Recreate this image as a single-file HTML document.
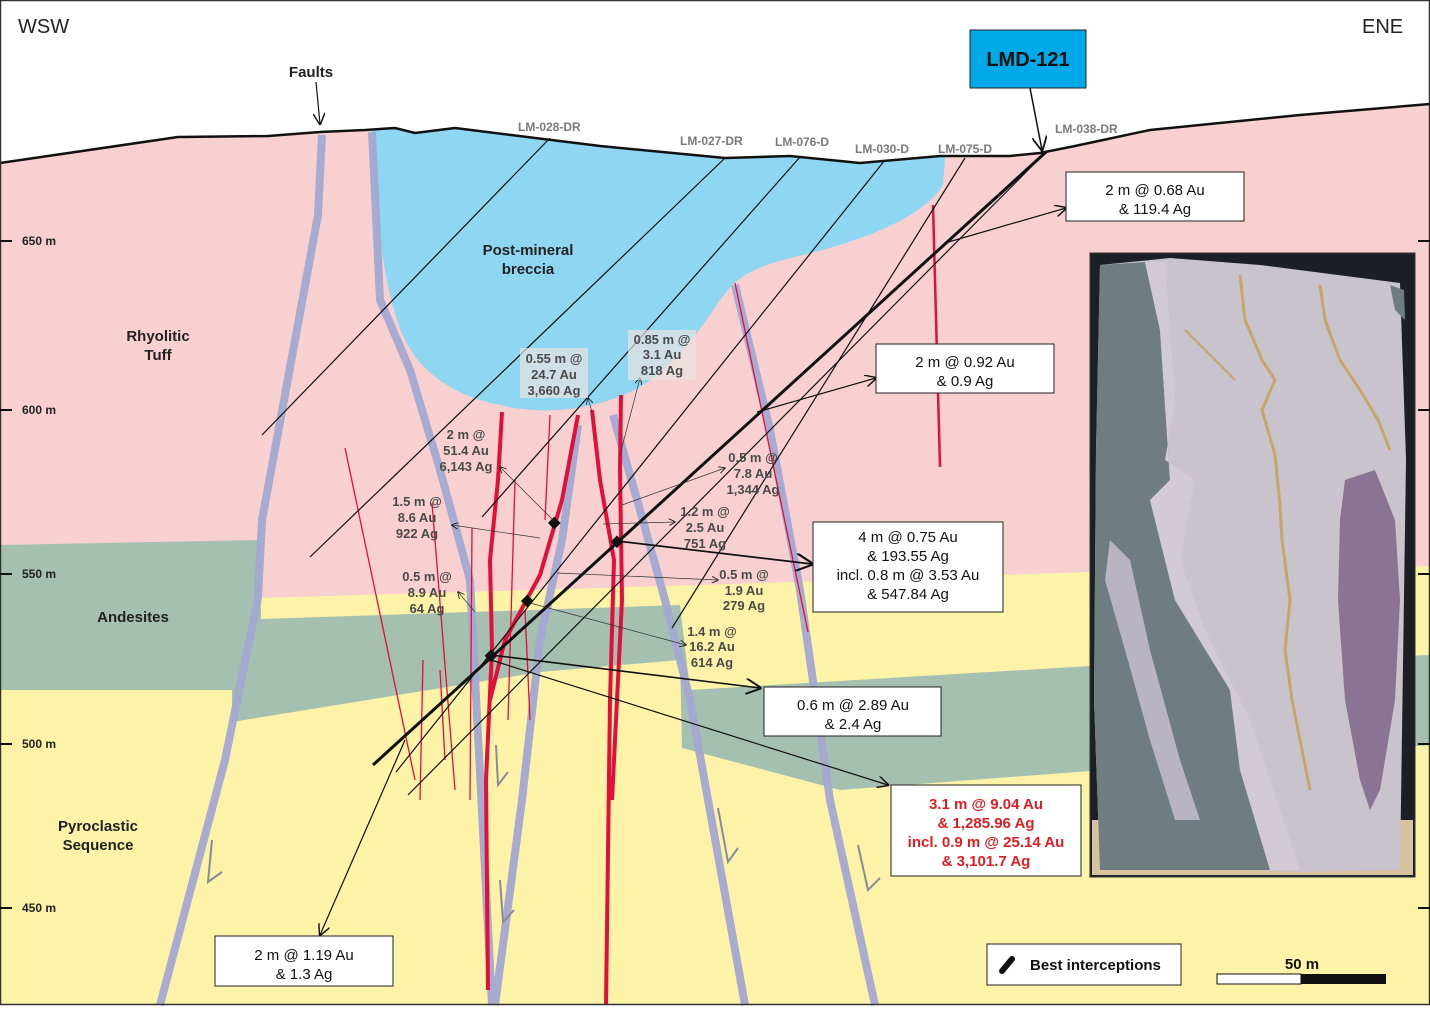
<!DOCTYPE html>
<html><head><meta charset="utf-8"><style>
html,body{margin:0;padding:0;background:#fff}
svg{display:block;font-family:"Liberation Sans",Arial,sans-serif}
.lab{font-size:13px;font-weight:bold;fill:#4a4a4a;text-anchor:middle}
.box{fill:#fff;stroke:#222;stroke-width:1}
.bt{font-size:15px;fill:#111;text-anchor:middle}
.rt{font-size:15px;fill:#e01c24;text-anchor:middle;font-weight:bold}
.geo{font-size:15px;font-weight:bold;fill:#222;text-anchor:middle}
.hole{font-size:12px;font-weight:bold;fill:#7a7a7a}
.dep{font-size:12px;font-weight:bold;fill:#222}
</style></head><body>
<svg width="1430" height="1010" viewBox="0 0 1430 1010" xmlns="http://www.w3.org/2000/svg">
<rect x="0" y="0" width="1430" height="1010" fill="#fff"/>
<!-- pink base -->
<polygon fill="#f9d0d0" points="0,163 178,137 268,136 320,132 365,130 395,128 415,133 455,128 600,146 725,158 790,156 860,163 940,156 1010,156 1040,153 1075,146 1150,130 1300,115 1430,104 1430,1005 0,1005"/>
<!-- yellow -->
<polygon fill="#fdf3a8" points="260,598 700,585 1090,572 1430,566 1430,1005 0,1005 0,688 260,688"/>
<!-- green left block -->
<polygon fill="#a5bfb0" points="0,545 260,540 262,690 0,690"/>
<!-- green middle/right -->
<polygon fill="#a5bfb0" points="232,620 470,612 680,605 690,690 1090,666 1430,655 1430,745 840,790 682,748 680,660 540,672 232,722"/>
<!-- breccia -->
<path fill="#8fd6f3" d="M372,130 L395,128 L415,133 L455,128 L600,146 L725,158 L790,156 L860,163 L940,156 L945,156 L943,185 C925,215 870,240 790,258 C745,270 735,280 720,300 C690,345 660,385 610,400 C580,410 540,415 500,405 C450,395 420,370 405,340 C390,310 380,250 376,200 Z"/>
<!-- faults -->
<g fill="none" stroke="#a3a8d2" stroke-width="8" stroke-linejoin="round" opacity="0.95">
<polyline points="322,135 318,215 262,520 258,598 225,760 160,1005"/>
<polyline points="372,132 380,300 410,370 440,470 470,580 492,1005"/>
<polyline points="578,425 562,540 540,640 522,800 495,1005"/>
<polyline points="613,415 640,510 665,600 690,700 745,1005"/>
<polyline points="735,285 770,430 800,590 830,800 875,1005"/>
</g>
<!-- fault ticks -->
<g fill="none" stroke="#8a8a9a" stroke-width="2">
<polyline points="212,840 208,882 222,872"/><polyline points="496,745 498,785 508,772"/>
<polyline points="718,808 728,862 738,848"/><polyline points="858,845 868,890 880,878"/>
<polyline points="500,880 503,922 514,910"/>
</g>
<!-- thin red veins -->
<g stroke="#e0103a" stroke-width="1.3" fill="none">
<line x1="345" y1="448" x2="415" y2="780"/><line x1="432" y1="503" x2="455" y2="790"/>
<line x1="472" y1="528" x2="470" y2="800"/><line x1="515" y1="480" x2="508" y2="720"/>
<line x1="550" y1="415" x2="545" y2="520"/><line x1="525" y1="610" x2="530" y2="720"/>
<line x1="423" y1="660" x2="420" y2="800"/><line x1="440" y1="670" x2="445" y2="760"/>
<line x1="735" y1="283" x2="808" y2="632"/>
</g>
<!-- thick red veins -->
<g stroke="#e0103a" stroke-width="4" fill="none" stroke-linejoin="round">
<polyline points="502,412 498,480 490,560 492,650 486,780 488,990"/>
<polyline points="578,415 562,500 540,575 505,640 490,700"/>
<polyline points="592,410 600,480 614,560 610,700 606,1005"/>
<polyline points="621,395 620,470 622,600 612,800"/>
<polyline points="933,205 940,467" stroke-width="2.5"/>
</g>
<!-- drill holes -->
<g stroke="#111" stroke-width="1.2" fill="none">
<line x1="550" y1="138" x2="262" y2="435"/>
<line x1="725" y1="158" x2="310" y2="557"/>
<line x1="800" y1="157" x2="482" y2="517"/>
<line x1="885" y1="160" x2="396" y2="772"/>
<line x1="965" y1="158" x2="672" y2="628"/>
<line x1="1040" y1="158" x2="408" y2="795"/>
</g>
<line x1="1046" y1="152" x2="373" y2="765" stroke="#111" stroke-width="3"/>
<!-- intercept markers -->
<g fill="#111">
<rect x="550" y="519" width="9" height="9" transform="rotate(45 555 523)"/>
<rect x="613" y="537" width="9" height="9" transform="rotate(45 617 541)"/>
<rect x="523" y="597" width="9" height="9" transform="rotate(45 528 601)"/>
<rect x="487" y="651" width="9" height="9" transform="rotate(45 491 655)"/>
</g>
<!-- arrows / leaders -->
<defs><marker id="ah" markerWidth="10" markerHeight="10" refX="9" refY="5" orient="auto"><path d="M0,0 L10,5 L0,10" fill="none" stroke="#111" stroke-width="1.2"/></marker></defs>
<g stroke="#111" fill="none" marker-end="url(#ah)">
<line x1="945" y1="243" x2="1066" y2="208" stroke-width="1.2"/>
<line x1="757" y1="412" x2="876" y2="378" stroke-width="1.2"/>
<line x1="617" y1="541" x2="812" y2="564" stroke-width="1.8"/>
<line x1="491" y1="655" x2="760" y2="688" stroke-width="1.6"/>
<line x1="491" y1="660" x2="888" y2="785" stroke-width="1.2"/>
<line x1="405" y1="740" x2="320" y2="935" stroke-width="1.2"/>
<line x1="1030" y1="88" x2="1042" y2="150" stroke-width="1.5"/>
<line x1="316" y1="82" x2="320" y2="124" stroke-width="1.2"/>
</g>
<g stroke="#333" fill="none" stroke-width="0.7" marker-end="url(#ah)">
<line x1="555" y1="522" x2="500" y2="467"/>
<line x1="540" y1="538" x2="452" y2="525"/>
<line x1="475" y1="612" x2="458" y2="592"/>
<line x1="592" y1="412" x2="588" y2="398"/>
<line x1="620" y1="455" x2="640" y2="378"/>
<line x1="622" y1="505" x2="725" y2="468"/>
<line x1="603" y1="524" x2="675" y2="522"/>
<line x1="557" y1="573" x2="718" y2="580"/>
<line x1="530" y1="603" x2="686" y2="645"/>
</g>
<!-- surface -->
<polyline fill="none" stroke="#111" stroke-width="2.5" points="0,163 178,137 268,136 320,132 365,130 395,128 415,133 455,128 600,146 725,158 790,156 860,163 940,156 1010,156 1040,153 1075,146 1150,130 1300,115 1430,104"/>
<!-- frame -->
<rect x="0.5" y="0.5" width="1429" height="1004" fill="none" stroke="#333" stroke-width="1.5"/>
<!-- depth ticks -->
<g stroke="#111" stroke-width="2">
<line x1="0" y1="241" x2="12" y2="241"/><line x1="0" y1="410" x2="12" y2="410"/><line x1="0" y1="574" x2="12" y2="574"/><line x1="0" y1="744" x2="12" y2="744"/><line x1="0" y1="908" x2="12" y2="908"/>
<line x1="1418" y1="241" x2="1430" y2="241"/><line x1="1418" y1="410" x2="1430" y2="410"/><line x1="1418" y1="574" x2="1430" y2="574"/><line x1="1418" y1="744" x2="1430" y2="744"/><line x1="1418" y1="908" x2="1430" y2="908"/>
</g>
<text class="dep" x="22" y="245">650 m</text><text class="dep" x="22" y="414">600 m</text><text class="dep" x="22" y="578">550 m</text><text class="dep" x="22" y="748">500 m</text><text class="dep" x="22" y="912">450 m</text>
<text x="18" y="33" font-size="20" fill="#222">WSW</text>
<text x="1362" y="33" font-size="20" fill="#222">ENE</text>
<text x="311" y="77" class="geo">Faults</text>
<rect x="970" y="30" width="116" height="58" fill="#00a9e8" stroke="#222" stroke-width="1"/>
<text x="1028" y="66" font-size="20" font-weight="bold" fill="#111" text-anchor="middle">LMD-121</text>
<!-- hole labels -->
<text class="hole" x="518" y="131">LM-028-DR</text><text class="hole" x="680" y="145">LM-027-DR</text>
<text class="hole" x="775" y="146">LM-076-D</text><text class="hole" x="855" y="153">LM-030-D</text>
<text class="hole" x="938" y="153">LM-075-D</text><text class="hole" x="1055" y="133">LM-038-DR</text>
<!-- geology -->
<text class="geo" x="528" y="255">Post-mineral</text><text class="geo" x="528" y="274">breccia</text>
<text class="geo" x="158" y="341">Rhyolitic</text><text class="geo" x="158" y="360">Tuff</text>
<text class="geo" x="133" y="622">Andesites</text>
<text class="geo" x="98" y="831">Pyroclastic</text><text class="geo" x="98" y="850">Sequence</text>
<!-- small labels -->
<g class="lab">
<rect x="520" y="348" width="68" height="50" fill="#e8e2e0" opacity="0.7" stroke="none"/>
<text x="554" y="363">0.55 m @</text><text x="554" y="379">24.7 Au</text><text x="554" y="395">3,660 Ag</text>
<rect x="628" y="330" width="68" height="50" fill="#e8e2e0" opacity="0.7" stroke="none"/>
<text x="662" y="344">0.85 m @</text><text x="662" y="359">3.1 Au</text><text x="662" y="375">818 Ag</text>
<text x="466" y="439">2 m @</text><text x="466" y="455">51.4 Au</text><text x="466" y="471">6,143 Ag</text>
<text x="417" y="506">1.5 m @</text><text x="417" y="522">8.6 Au</text><text x="417" y="538">922 Ag</text>
<text x="427" y="581">0.5 m @</text><text x="427" y="597">8.9 Au</text><text x="427" y="613">64 Ag</text>
<text x="753" y="462">0.5 m @</text><text x="753" y="478">7.8 Au</text><text x="753" y="494">1,344 Ag</text>
<text x="705" y="516">1.2 m @</text><text x="705" y="532">2.5 Au</text><text x="705" y="548">751 Ag</text>
<text x="744" y="579">0.5 m @</text><text x="744" y="595">1.9 Au</text><text x="744" y="610">279 Ag</text>
<text x="712" y="636">1.4 m @</text><text x="712" y="651">16.2 Au</text><text x="712" y="667">614 Ag</text>
</g>
<!-- boxes -->
<rect class="box" x="1066" y="172" width="178" height="49"/><text class="bt" x="1155" y="195">2 m @ 0.68 Au</text><text class="bt" x="1155" y="214">&amp; 119.4 Ag</text>
<rect class="box" x="876" y="344" width="178" height="49"/><text class="bt" x="965" y="367">2 m @ 0.92 Au</text><text class="bt" x="965" y="386">&amp; 0.9 Ag</text>
<rect class="box" x="813" y="522" width="190" height="90"/><text class="bt" x="908" y="542">4 m @ 0.75 Au</text><text class="bt" x="908" y="561">&amp; 193.55 Ag</text><text class="bt" x="908" y="580">incl. 0.8 m @ 3.53 Au</text><text class="bt" x="908" y="599">&amp; 547.84 Ag</text>
<rect class="box" x="764" y="687" width="177" height="49"/><text class="bt" x="853" y="710">0.6 m @ 2.89 Au</text><text class="bt" x="853" y="729">&amp; 2.4 Ag</text>
<rect class="box" x="891" y="785" width="190" height="91"/><text class="rt" x="986" y="809">3.1 m @ 9.04 Au</text><text class="rt" x="986" y="828">&amp; 1,285.96 Ag</text><text class="rt" x="986" y="847">incl. 0.9 m @ 25.14 Au</text><text class="rt" x="986" y="866">&amp; 3,101.7 Ag</text>
<rect class="box" x="215" y="936" width="178" height="50"/><text class="bt" x="304" y="960">2 m @ 1.19 Au</text><text class="bt" x="304" y="979">&amp; 1.3 Ag</text>
<!-- photo -->
<g>
<rect x="1090" y="253" width="325" height="624" fill="#1c2026" stroke="#333"/>
<rect x="1092" y="820" width="321" height="55" fill="#d9c2a0"/>
<path d="M1100,265 L1170,258 L1260,265 L1400,283 L1406,460 L1400,870 L1300,872 L1200,868 L1100,870 L1094,700 L1096,450 Z" fill="#c9c3ce"/>
<path d="M1100,265 L1145,262 L1160,330 L1170,480 L1150,500 L1175,600 L1230,690 L1240,770 L1270,870 L1100,870 L1094,700 L1096,450 Z" fill="#6f7d80"/>
<path d="M1145,262 L1165,262 L1175,400 L1165,460 L1195,480 L1180,560 L1205,630 L1250,720 L1280,810 L1300,870 L1270,870 L1240,770 L1230,690 L1175,600 L1150,500 L1170,480 L1160,330 Z" fill="#d2cad3"/>
<path d="M1110,540 L1130,560 L1150,650 L1180,760 L1200,820 L1175,820 L1150,740 L1125,650 L1105,580 Z" fill="#b9b4c2"/>
<path d="M1345,480 L1375,470 L1395,520 L1400,600 L1395,700 L1380,790 L1370,810 L1360,780 L1345,700 L1338,600 L1340,520 Z" fill="#8b7393"/>
<path d="M1390,285 L1404,290 L1405,320 L1395,310 Z" fill="#6f7d80"/>
<polyline points="1240,275 1245,320 1262,360 1275,380 1262,410 1275,455 1280,505 1282,540 1290,600 1285,650 1292,700 1300,740 1310,790" fill="none" stroke="#c9a56a" stroke-width="3"/>
<polyline points="1320,285 1325,320 1340,360 1360,390 1378,420 1390,450" fill="none" stroke="#c9a56a" stroke-width="3"/>
<polyline points="1185,330 1215,360 1235,380" fill="none" stroke="#c9a56a" stroke-width="2"/>
</g>
<!-- legend -->
<rect class="box" x="987" y="944" width="194" height="41"/>
<line x1="1002" y1="971" x2="1012" y2="959" stroke="#111" stroke-width="6" stroke-linecap="round"/>
<text x="1030" y="970" font-size="15" font-weight="bold" fill="#111">Best interceptions</text>
<text x="1302" y="969" font-size="15" font-weight="bold" fill="#111" text-anchor="middle">50 m</text>
<rect x="1217" y="974" width="84" height="10" fill="#fff" stroke="#111"/>
<rect x="1301" y="974" width="85" height="10" fill="#111"/>
</svg>
</body></html>
